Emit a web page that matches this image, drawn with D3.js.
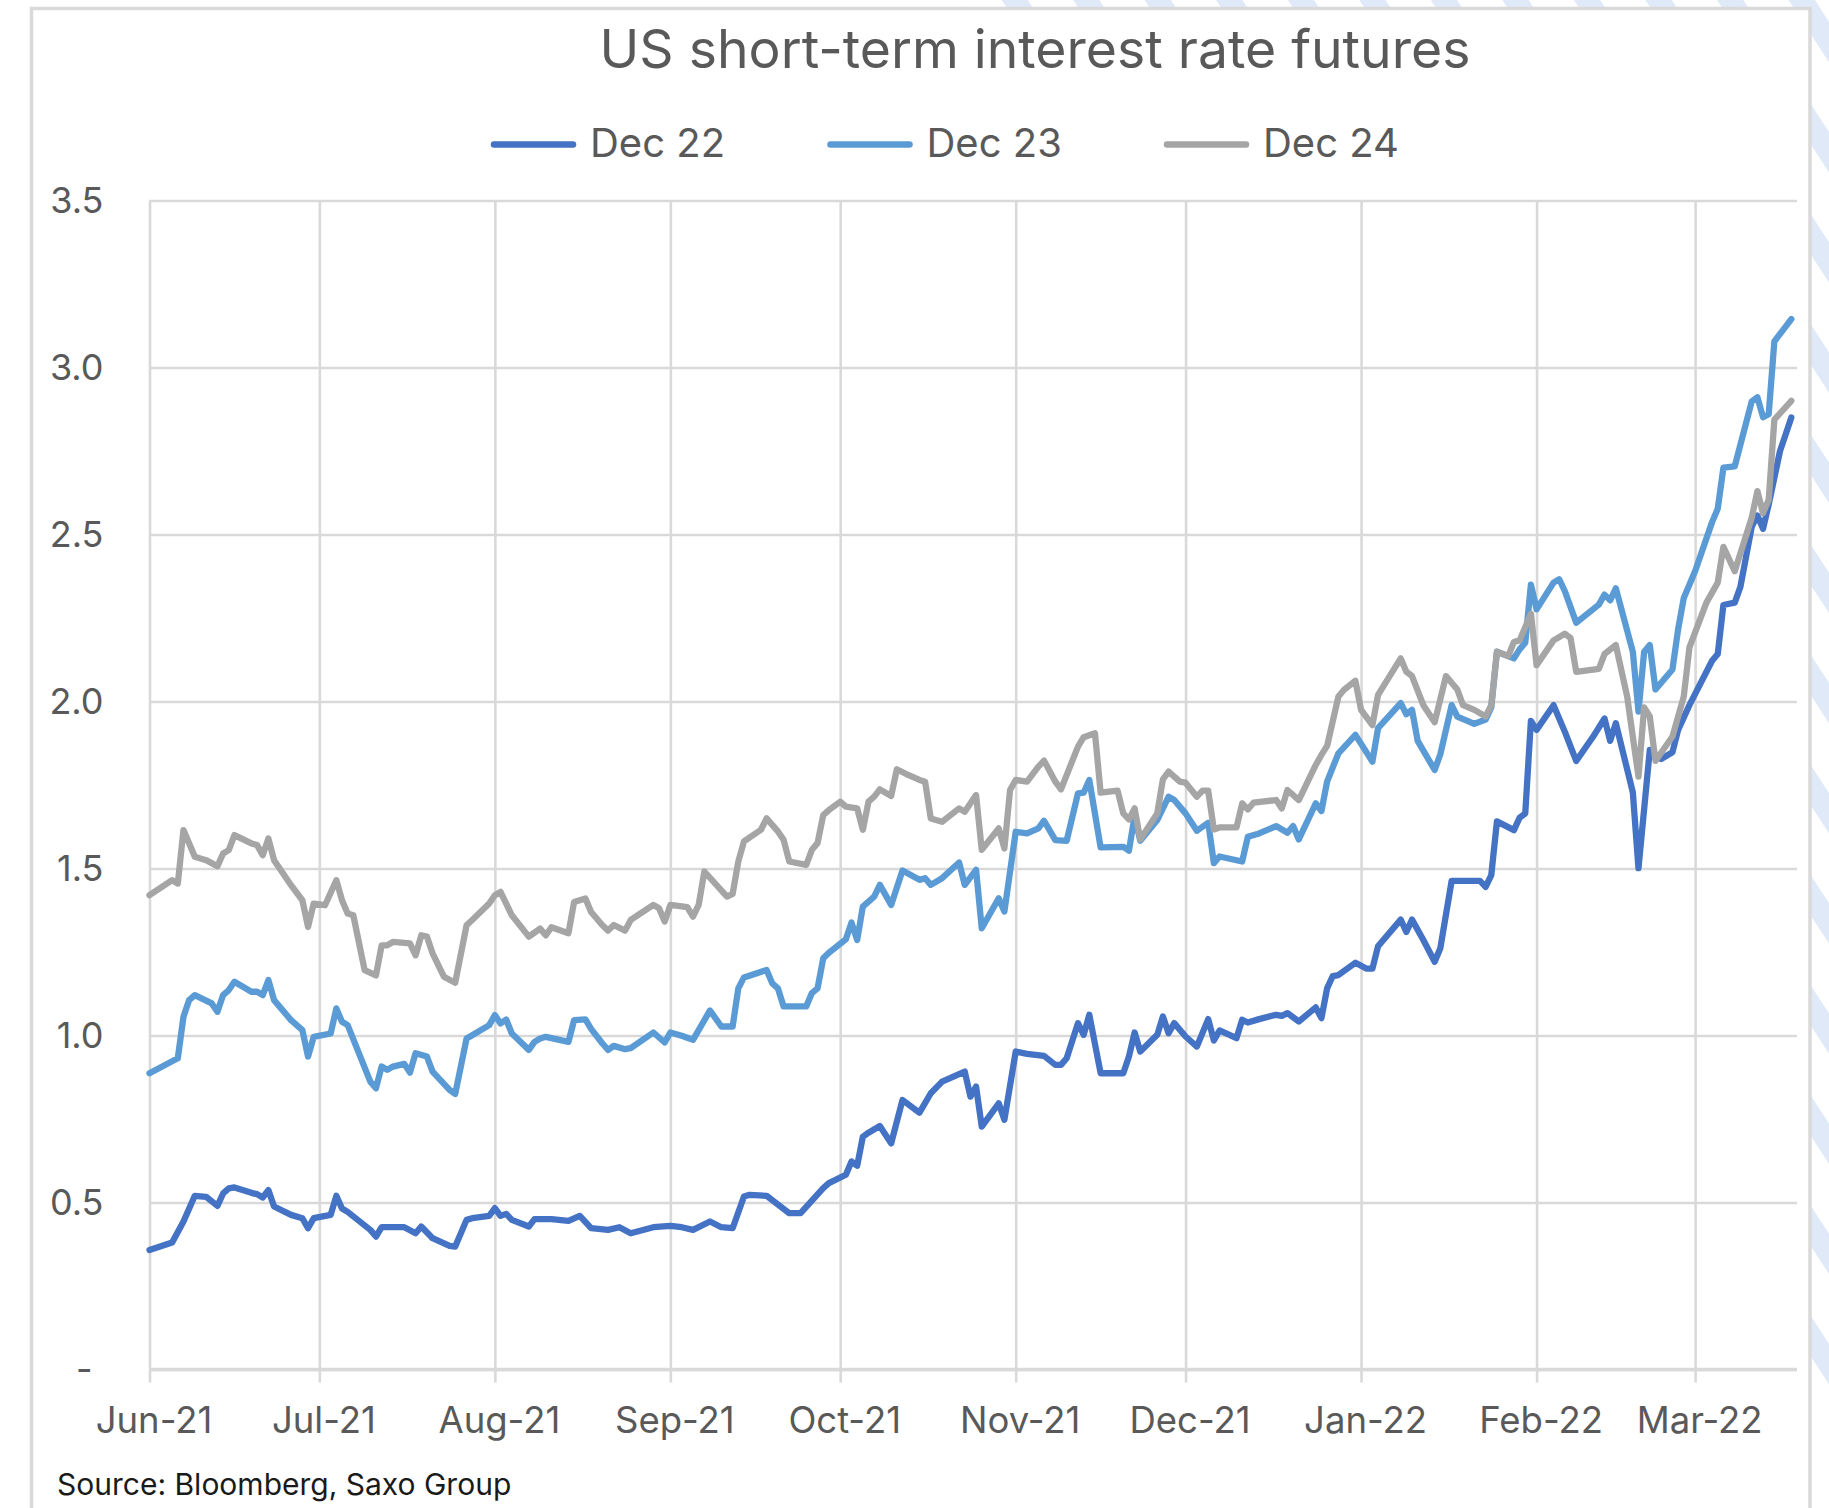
<!DOCTYPE html>
<html>
<head>
<meta charset="utf-8">
<script src="https://cdn.jsdelivr.net/npm/d3@7"></script>
<style>
  body { margin: 0; background: #fff; }
  svg { display: block; font-family: Inter, "Noto Sans", sans-serif; }
</style>
</head>
<body>
<div id="chart"></div>
<script>
// chart texts
const titleText = "US short-term interest rate futures";
const sourceText = "Source: Bloomberg, Saxo Group";
const seriesNames = ["Dec 22", "Dec 23", "Dec 24"];
const seriesColors = ["#4472c4", "#5b9bd5", "#a5a5a5"];
const yTicks = [0, 0.5, 1, 1.5, 2, 2.5, 3, 3.5];
const monthTicks = ["2021-06-01", "2021-07-01", "2021-08-01", "2021-09-01", "2021-10-01",
  "2021-11-01", "2021-12-01", "2022-01-01", "2022-02-01", "2022-03-01"];
const dateRange = ["2021-06-01", "2022-03-19"];

// values (date, rate %)
const dec22 = [
  ["2021-06-01",0.358],["2021-06-05",0.38],["2021-06-07",0.443],["2021-06-09",0.52],["2021-06-11",0.517],
  ["2021-06-13",0.49],["2021-06-14",0.527],["2021-06-15",0.542],["2021-06-16",0.545],["2021-06-19",0.529],
  ["2021-06-20",0.525],["2021-06-21",0.515],["2021-06-22",0.537],["2021-06-23",0.488],["2021-06-26",0.463],
  ["2021-06-28",0.453],["2021-06-29",0.423],["2021-06-30",0.453],["2021-07-03",0.463],["2021-07-04",0.52],
  ["2021-07-05",0.482],["2021-07-06",0.472],["2021-07-10",0.418],["2021-07-11",0.398],["2021-07-12",0.426],
  ["2021-07-16",0.426],["2021-07-18",0.408],["2021-07-19",0.428],["2021-07-21",0.393],["2021-07-24",0.37],
  ["2021-07-25",0.368],["2021-07-27",0.448],["2021-07-28",0.453],["2021-07-31",0.46],["2021-08-01",0.483],
  ["2021-08-02",0.46],["2021-08-03",0.466],["2021-08-04",0.448],["2021-08-07",0.428],["2021-08-08",0.45],
  ["2021-08-11",0.45],["2021-08-14",0.445],["2021-08-16",0.46],["2021-08-18",0.423],["2021-08-21",0.418],
  ["2021-08-23",0.426],["2021-08-25",0.408],["2021-08-29",0.426],["2021-09-01",0.43],["2021-09-03",0.426],
  ["2021-09-05",0.418],["2021-09-08",0.443],["2021-09-10",0.426],["2021-09-12",0.423],["2021-09-14",0.518],
  ["2021-09-15",0.523],["2021-09-18",0.52],["2021-09-22",0.468],["2021-09-24",0.468],["2021-09-28",0.543],
  ["2021-09-29",0.558],["2021-10-02",0.583],["2021-10-03",0.623],["2021-10-04",0.61],["2021-10-05",0.697],
  ["2021-10-06",0.709],["2021-10-08",0.729],["2021-10-10",0.677],["2021-10-12",0.807],["2021-10-15",0.769],
  ["2021-10-17",0.827],["2021-10-19",0.862],["2021-10-23",0.892],["2021-10-24",0.817],["2021-10-25",0.847],
  ["2021-10-26",0.727],["2021-10-29",0.797],["2021-10-30",0.748],["2021-11-01",0.952],["2021-11-03",0.945],
  ["2021-11-06",0.939],["2021-11-08",0.912],["2021-11-09",0.912],["2021-11-10",0.932],["2021-11-12",1.037],
  ["2021-11-13",1.002],["2021-11-14",1.062],["2021-11-16",0.887],["2021-11-20",0.887],["2021-11-21",0.937],
  ["2021-11-22",1.009],["2021-11-23",0.952],["2021-11-26",1.002],["2021-11-27",1.057],["2021-11-28",1.007],
  ["2021-11-29",1.037],["2021-12-01",0.997],["2021-12-03",0.967],["2021-12-05",1.049],["2021-12-06",0.985],
  ["2021-12-07",1.015],["2021-12-10",0.992],["2021-12-11",1.047],["2021-12-12",1.039],["2021-12-14",1.049],
  ["2021-12-17",1.062],["2021-12-18",1.059],["2021-12-19",1.067],["2021-12-21",1.042],["2021-12-24",1.084],
  ["2021-12-25",1.052],["2021-12-26",1.141],["2021-12-27",1.178],["2021-12-28",1.181],["2021-12-31",1.218],
  ["2022-01-02",1.2],["2022-01-03",1.2],["2022-01-04",1.267],["2022-01-08",1.347],["2022-01-09",1.31],
  ["2022-01-10",1.347],["2022-01-12",1.286],["2022-01-14",1.221],["2022-01-15",1.261],["2022-01-17",1.463],
  ["2022-01-22",1.463],["2022-01-23",1.445],["2022-01-24",1.48],["2022-01-25",1.641],["2022-01-28",1.615],
  ["2022-01-29",1.652],["2022-01-30",1.665],["2022-01-31",1.942],["2022-02-01",1.915],["2022-02-04",1.989],
  ["2022-02-06",1.909],["2022-02-08",1.822],["2022-02-11",1.895],["2022-02-13",1.949],["2022-02-14",1.882],
  ["2022-02-15",1.935],["2022-02-18",1.728],["2022-02-19",1.501],["2022-02-21",1.855],["2022-02-23",1.828],
  ["2022-02-25",1.848],["2022-02-26",1.915],["2022-02-28",1.989],["2022-03-04",2.122],["2022-03-05",2.142],
  ["2022-03-06",2.289],["2022-03-08",2.296],["2022-03-09",2.343],["2022-03-11",2.523],["2022-03-12",2.557],
  ["2022-03-13",2.517],["2022-03-14",2.59],["2022-03-16",2.75],["2022-03-18",2.85]
];

const dec23 = [
  ["2021-06-01",0.887],["2021-06-06",0.932],["2021-06-07",1.056],["2021-06-08",1.106],["2021-06-09",1.121],
  ["2021-06-12",1.096],["2021-06-13",1.071],["2021-06-14",1.121],["2021-06-15",1.136],["2021-06-16",1.161],
  ["2021-06-19",1.131],["2021-06-20",1.131],["2021-06-21",1.121],["2021-06-22",1.166],["2021-06-23",1.106],
  ["2021-06-26",1.046],["2021-06-28",1.016],["2021-06-29",0.937],["2021-06-30",0.996],["2021-07-03",1.006],
  ["2021-07-04",1.081],["2021-07-05",1.041],["2021-07-06",1.031],["2021-07-10",0.862],["2021-07-11",0.842],
  ["2021-07-12",0.907],["2021-07-13",0.897],["2021-07-14",0.907],["2021-07-16",0.915],["2021-07-17",0.889],
  ["2021-07-18",0.947],["2021-07-20",0.937],["2021-07-21",0.892],["2021-07-24",0.837],["2021-07-25",0.825],
  ["2021-07-27",0.991],["2021-07-28",1.001],["2021-07-31",1.031],["2021-08-01",1.061],["2021-08-02",1.036],
  ["2021-08-03",1.048],["2021-08-04",1.006],["2021-08-07",0.957],["2021-08-08",0.981],["2021-08-09",0.991],
  ["2021-08-10",0.996],["2021-08-14",0.981],["2021-08-15",1.046],["2021-08-17",1.048],["2021-08-18",1.02],
  ["2021-08-20",0.976],["2021-08-21",0.957],["2021-08-22",0.969],["2021-08-24",0.959],["2021-08-25",0.962],
  ["2021-08-29",1.009],["2021-08-31",0.979],["2021-09-01",1.009],["2021-09-03",0.999],["2021-09-05",0.987],
  ["2021-09-08",1.075],["2021-09-10",1.027],["2021-09-12",1.027],["2021-09-13",1.141],["2021-09-14",1.174],
  ["2021-09-18",1.196],["2021-09-19",1.156],["2021-09-20",1.141],["2021-09-21",1.087],["2021-09-25",1.087],
  ["2021-09-26",1.127],["2021-09-27",1.141],["2021-09-28",1.231],["2021-09-29",1.248],["2021-10-02",1.288],
  ["2021-10-03",1.338],["2021-10-04",1.286],["2021-10-05",1.386],["2021-10-07",1.416],["2021-10-08",1.451],
  ["2021-10-10",1.391],["2021-10-12",1.494],["2021-10-15",1.466],["2021-10-16",1.471],["2021-10-17",1.451],
  ["2021-10-19",1.471],["2021-10-22",1.518],["2021-10-23",1.451],["2021-10-25",1.496],["2021-10-26",1.321],
  ["2021-10-29",1.411],["2021-10-30",1.371],["2021-11-01",1.61],["2021-11-03",1.605],["2021-11-05",1.62],
  ["2021-11-06",1.643],["2021-11-08",1.585],["2021-11-10",1.583],["2021-11-12",1.725],["2021-11-13",1.727],
  ["2021-11-14",1.765],["2021-11-16",1.563],["2021-11-20",1.565],["2021-11-21",1.553],["2021-11-22",1.657],
  ["2021-11-23",1.583],["2021-11-26",1.645],["2021-11-28",1.715],["2021-11-29",1.705],["2021-12-01",1.665],
  ["2021-12-03",1.613],["2021-12-05",1.637],["2021-12-06",1.516],["2021-12-07",1.536],["2021-12-11",1.521],
  ["2021-12-12",1.595],["2021-12-14",1.605],["2021-12-17",1.627],["2021-12-19",1.607],["2021-12-20",1.627],
  ["2021-12-21",1.587],["2021-12-24",1.695],["2021-12-25",1.672],["2021-12-26",1.76],["2021-12-28",1.845],
  ["2021-12-31",1.9],["2022-01-03",1.82],["2022-01-04",1.92],["2022-01-08",1.995],["2022-01-09",1.962],
  ["2022-01-10",1.975],["2022-01-11",1.882],["2022-01-14",1.795],["2022-01-15",1.842],["2022-01-17",1.989],
  ["2022-01-18",1.955],["2022-01-21",1.933],["2022-01-23",1.946],["2022-01-24",1.982],["2022-01-25",2.149],
  ["2022-01-28",2.129],["2022-01-29",2.156],["2022-01-30",2.176],["2022-01-31",2.35],["2022-02-01",2.276],
  ["2022-02-04",2.356],["2022-02-05",2.366],["2022-02-06",2.33],["2022-02-08",2.236],["2022-02-12",2.29],
  ["2022-02-13",2.32],["2022-02-14",2.303],["2022-02-15",2.339],["2022-02-18",2.149],["2022-02-19",1.97],
  ["2022-02-20",2.149],["2022-02-21",2.169],["2022-02-22",2.036],["2022-02-25",2.096],["2022-02-26",2.216],
  ["2022-02-27",2.31],["2022-03-01",2.39],["2022-03-04",2.537],["2022-03-05",2.577],["2022-03-06",2.7],
  ["2022-03-08",2.704],["2022-03-11",2.898],["2022-03-12",2.911],["2022-03-13",2.851],["2022-03-14",2.86],
  ["2022-03-15",3.078],["2022-03-18",3.145]
];

const dec24 = [
  ["2021-06-01",1.42],["2021-06-05",1.465],["2021-06-06",1.455],["2021-06-07",1.615],["2021-06-09",1.535],
  ["2021-06-11",1.525],["2021-06-13",1.507],["2021-06-14",1.545],["2021-06-15",1.555],["2021-06-16",1.6],
  ["2021-06-19",1.575],["2021-06-20",1.57],["2021-06-21",1.54],["2021-06-22",1.59],["2021-06-23",1.525],
  ["2021-06-24",1.5],["2021-06-26",1.45],["2021-06-28",1.405],["2021-06-29",1.325],["2021-06-30",1.395],
  ["2021-07-02",1.39],["2021-07-04",1.465],["2021-07-05",1.405],["2021-07-06",1.365],["2021-07-07",1.36],
  ["2021-07-09",1.196],["2021-07-11",1.18],["2021-07-12",1.27],["2021-07-13",1.27],["2021-07-14",1.28],
  ["2021-07-17",1.276],["2021-07-18",1.24],["2021-07-19",1.3],["2021-07-20",1.296],["2021-07-21",1.246],
  ["2021-07-23",1.176],["2021-07-25",1.158],["2021-07-27",1.33],["2021-07-28",1.346],["2021-07-31",1.395],
  ["2021-08-01",1.42],["2021-08-02",1.43],["2021-08-04",1.36],["2021-08-07",1.296],["2021-08-09",1.32],
  ["2021-08-10",1.3],["2021-08-11",1.324],["2021-08-14",1.306],["2021-08-15",1.4],["2021-08-17",1.41],
  ["2021-08-18",1.37],["2021-08-20",1.33],["2021-08-21",1.314],["2021-08-22",1.331],["2021-08-24",1.314],
  ["2021-08-25",1.346],["2021-08-29",1.391],["2021-08-30",1.381],["2021-08-31",1.341],["2021-09-01",1.391],
  ["2021-09-04",1.384],["2021-09-05",1.356],["2021-09-06",1.391],["2021-09-07",1.491],["2021-09-11",1.416],
  ["2021-09-12",1.424],["2021-09-13",1.521],["2021-09-14",1.581],["2021-09-17",1.616],["2021-09-18",1.65],
  ["2021-09-20",1.611],["2021-09-21",1.586],["2021-09-22",1.521],["2021-09-25",1.511],["2021-09-26",1.556],
  ["2021-09-27",1.576],["2021-09-28",1.66],["2021-09-29",1.675],["2021-10-01",1.7],["2021-10-02",1.685],
  ["2021-10-04",1.68],["2021-10-05",1.616],["2021-10-06",1.7],["2021-10-07",1.715],["2021-10-08",1.737],
  ["2021-10-10",1.717],["2021-10-11",1.797],["2021-10-13",1.78],["2021-10-15",1.765],["2021-10-16",1.76],
  ["2021-10-17",1.65],["2021-10-19",1.64],["2021-10-22",1.68],["2021-10-23",1.67],["2021-10-25",1.72],
  ["2021-10-26",1.556],["2021-10-29",1.62],["2021-10-30",1.56],["2021-10-31",1.735],["2021-11-01",1.765],
  ["2021-11-03",1.76],["2021-11-05",1.805],["2021-11-06",1.823],["2021-11-08",1.76],["2021-11-09",1.737],
  ["2021-11-12",1.865],["2021-11-13",1.893],["2021-11-15",1.905],["2021-11-16",1.727],["2021-11-19",1.733],
  ["2021-11-20",1.665],["2021-11-21",1.647],["2021-11-22",1.68],["2021-11-23",1.587],["2021-11-26",1.665],
  ["2021-11-27",1.767],["2021-11-28",1.79],["2021-11-30",1.76],["2021-12-01",1.757],["2021-12-03",1.715],
  ["2021-12-04",1.733],["2021-12-05",1.733],["2021-12-06",1.617],["2021-12-07",1.623],["2021-12-10",1.623],
  ["2021-12-11",1.695],["2021-12-12",1.677],["2021-12-13",1.697],["2021-12-17",1.705],["2021-12-18",1.68],
  ["2021-12-19",1.735],["2021-12-21",1.705],["2021-12-24",1.81],["2021-12-25",1.84],["2021-12-26",1.867],
  ["2021-12-28",2.015],["2021-12-29",2.035],["2021-12-31",2.062],["2022-01-01",1.975],["2022-01-03",1.929],
  ["2022-01-04",2.02],["2022-01-08",2.129],["2022-01-09",2.089],["2022-01-10",2.076],["2022-01-12",1.989],
  ["2022-01-14",1.938],["2022-01-16",2.076],["2022-01-18",2.036],["2022-01-19",1.989],["2022-01-21",1.975],
  ["2022-01-23",1.955],["2022-01-24",1.989],["2022-01-25",2.149],["2022-01-27",2.136],["2022-01-28",2.178],
  ["2022-01-29",2.183],["2022-01-31",2.263],["2022-02-01",2.109],["2022-02-04",2.183],["2022-02-06",2.203],
  ["2022-02-07",2.19],["2022-02-08",2.089],["2022-02-12",2.098],["2022-02-13",2.142],["2022-02-15",2.169],
  ["2022-02-17",2.015],["2022-02-19",1.775],["2022-02-20",1.982],["2022-02-21",1.955],["2022-02-22",1.822],
  ["2022-02-25",1.895],["2022-02-27",2.015],["2022-02-28",2.162],["2022-03-03",2.296],["2022-03-05",2.356],
  ["2022-03-06",2.463],["2022-03-08",2.39],["2022-03-11",2.55],["2022-03-12",2.63],["2022-03-13",2.564],
  ["2022-03-14",2.604],["2022-03-15",2.844],["2022-03-18",2.9]
];

const W = 1829, H = 1508;
const plot = { left: 149.5, right: 1797, top: 200.5, bottom: 1369.5 };
const parse = d3.timeParse("%Y-%m-%d");

const svg = d3.select("#chart").append("svg")
  .attr("width", W)
  .attr("height", H);

// page background stripes (upper right, outside the card)
const defs = svg.append("defs");
const pat = defs.append("pattern")
  .attr("id", "stripes")
  .attr("patternUnits", "userSpaceOnUse")
  .attr("width", 60).attr("height", 60)
  .attr("patternTransform", "rotate(-33)");
pat.append("rect").attr("width", 22).attr("height", 60).attr("fill", "#dfe9f8");

svg.append("rect").attr("width", W).attr("height", H).attr("fill", "#fff");
svg.append("rect").attr("x", 960).attr("y", 0).attr("width", W - 960).attr("height", 10)
  .attr("fill", "url(#stripes)");
svg.append("rect").attr("x", 1808).attr("y", 0).attr("width", W - 1808).attr("height", 1390)
  .attr("fill", "url(#stripes)");

// card
svg.append("path")
  .attr("d", `M31.5,${H} V8.5 H1810 V${H}`)
  .attr("fill", "#fff")
  .attr("stroke", "#d9d9d9")
  .attr("stroke-width", 3.5);

const x = d3.scaleTime()
  .domain(dateRange.map(parse))
  .range([plot.left, plot.right]);

const y = d3.scaleLinear()
  .domain([0, 3.5])
  .range([plot.bottom, plot.top]);

// horizontal grid
svg.append("g")
  .attr("transform", `translate(${plot.left},0)`)
  .call(d3.axisLeft(y).tickValues(yTicks).tickSize(-(plot.right - plot.left)).tickFormat(""))
  .call(g => g.select(".domain").remove())
  .call(g => g.selectAll("line").attr("stroke", "#d9d9d9").attr("stroke-width", 2.6));

// vertical grid
svg.append("g")
  .attr("transform", `translate(0,${plot.bottom})`)
  .call(d3.axisBottom(x).tickValues(monthTicks.map(parse)).tickSize(-(plot.bottom - plot.top)).tickFormat(""))
  .call(g => g.select(".domain").remove())
  .call(g => g.selectAll("line").attr("stroke", "#d9d9d9").attr("stroke-width", 2.6));

// x axis
const fmtMonth = d3.timeFormat("%b-%y");
svg.append("g")
  .attr("transform", `translate(0,${plot.bottom})`)
  .call(d3.axisBottom(x).tickValues(monthTicks.map(parse)).tickSize(13).tickSizeOuter(0)
    .tickPadding(25).tickFormat(fmtMonth))
  .call(g => g.select(".domain").attr("stroke", "#d9d9d9").attr("stroke-width", 3.6)
    .attr("d", `M${plot.left},0H${plot.right}`))
  .call(g => g.selectAll("line").attr("stroke", "#d9d9d9").attr("stroke-width", 2.6))
  .call(g => g.selectAll("text")
    .attr("fill", "#595959")
    .attr("font-family", "Inter, sans-serif")
    .attr("font-size", 36.5)
    .attr("dx", 4));

// y axis labels
svg.append("g")
  .attr("transform", `translate(${plot.left},0)`)
  .call(d3.axisLeft(y).tickValues(yTicks).tickSize(0).tickPadding(46)
    .tickFormat(d => d === 0 ? "-" : d3.format(".1f")(d)))
  .call(g => g.select(".domain").remove())
  .call(g => g.selectAll("text")
    .attr("fill", "#595959")
    .attr("font-family", "Inter, sans-serif")
    .attr("font-size", 36)
    .attr("dx", d => d === 0 ? -11 : 0));

// series lines
const series = [dec22, dec23, dec24].map((arr, i) => ({
  name: seriesNames[i],
  color: seriesColors[i],
  values: arr.map(d => ({ date: parse(d[0]), value: d[1] }))
}));

const line = d3.line()
  .x(d => x(d.date))
  .y(d => y(d.value));

svg.append("g").selectAll("path")
  .data(series)
  .join("path")
  .attr("d", d => line(d.values))
  .attr("fill", "none")
  .attr("stroke", d => d.color)
  .attr("stroke-width", 6.3)
  .attr("stroke-linejoin", "round")
  .attr("stroke-linecap", "round");

// title
svg.append("text")
  .attr("x", 1035)
  .attr("y", 68)
  .attr("text-anchor", "middle")
  .attr("fill", "#595959")
  .attr("font-size", 53.5)
  .text(titleText);

// legend
const legend = svg.append("g").selectAll("g")
  .data(series)
  .join("g")
  .attr("transform", (d, i) => `translate(${494 + i * 336.5},144.5)`);
legend.append("line")
  .attr("x1", 0).attr("x2", 79)
  .attr("stroke", d => d.color)
  .attr("stroke-width", 6.5)
  .attr("stroke-linecap", "round");
legend.append("text")
  .attr("x", 96)
  .attr("y", 12.5)
  .attr("fill", "#595959")
  .attr("font-size", 40)
  .text(d => d.name);

// source note
svg.append("text")
  .attr("x", 57)
  .attr("y", 1495)
  .attr("fill", "#1a1a1a")
  .attr("font-size", 30)
  .text(sourceText);
</script>
</body>
</html>
